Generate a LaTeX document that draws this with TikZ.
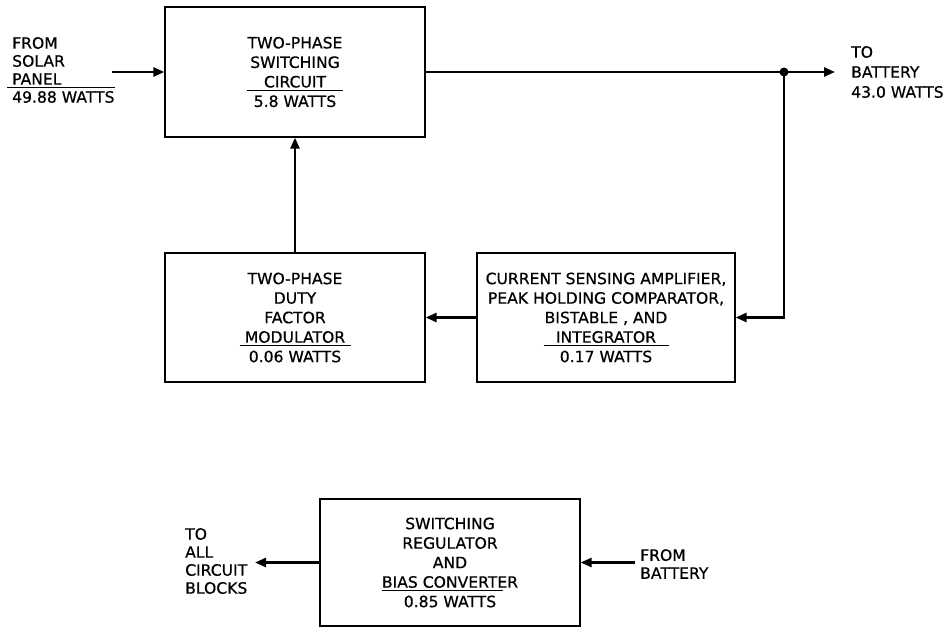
\documentclass[tikz,border=0pt]{standalone}
\usepackage{fontspec}
\setmainfont[FakeBold=0.6]{DejaVu Sans}
\usetikzlibrary{arrows.meta, positioning}
% rule under the last title line of a block
\newcommand{\ovr}[2]{\makebox[#1]{\rlap{\rule[-3.5pt]{#1}{0.9pt}}\hfill#2\hfill}}

\begin{document}
\begin{tikzpicture}[x=1pt, y=-1pt, >={Triangle[length=11pt, width=9pt]},
  blk/.style={draw, line width=1.3pt, inner sep=0pt, align=center,
              font=\fontsize{15.6}{19.5}\selectfont},
  lbl/.style={inner sep=0pt, align=left, anchor=west,
              font=\fontsize{15.6}{18}\selectfont},
  wire/.style={line width=2.6pt}]
  \useasboundingbox (0,0) rectangle (948,628);

  \node[blk, minimum width=260pt, minimum height=130pt] (sw) at (295,72)
    {TWO-PHASE\\SWITCHING\\\ovr{96pt}{CIRCUIT}\\5.8 WATTS};
  \node[blk, minimum width=260pt, minimum height=129pt] (mod) at (295,317.5)
    {TWO-PHASE\\DUTY\\FACTOR\\\ovr{111pt}{MODULATOR}\\0.06 WATTS};
  \node[blk, minimum width=258pt, minimum height=129pt] (cur) at (606,317.5)
    {CURRENT SENSING AMPLIFIER,\\PEAK HOLDING COMPARATOR,\\BISTABLE , AND\\\ovr{125pt}{INTEGRATOR}\\0.17 WATTS};
  \node[blk, minimum width=260pt, minimum height=127pt] (reg) at (450,562.5)
    {SWITCHING\\REGULATOR\\AND\\\ovr{121pt}{BIAS CONVERTER}\\0.85 WATTS};

  % outside labels
  \node[lbl] (solar) at (12,70)
    {FROM\\SOLAR\\\hspace*{-5pt}\rlap{\rule[-3.5pt]{108pt}{0.9pt}}\hspace*{5pt}PANEL\\49.88 WATTS};
  \node[lbl, font=\fontsize{15.6}{20}\selectfont] (bat) at (851,72)
    {TO\\BATTERY\\43.0 WATTS};
  \node[lbl] (loads) at (185,561) {TO\\ALL\\CIRCUIT\\BLOCKS};
  \node[lbl] (batin) at (640,564) {FROM\\BATTERY};

  \coordinate (in) at (112,72);
  \coordinate (jn) at (784,72);
  \coordinate (out) at (835,72);
  \coordinate (rout) at (255,562.5);
  \coordinate (rin) at (635,562.5);

  \draw[wire, ->] (in) -- (sw.west);
  \draw[wire] (sw.east) -- (jn);
  \draw[wire, ->] (jn) -- (out);
  \fill (jn) circle (4.5pt);
  \draw[wire, ->] (jn) |- (cur.east);
  \draw[wire, ->] (cur.west) -- (mod.east);
  \draw[wire, ->] (mod.north) -- (sw.south);
  \draw[wire, ->] (reg.west) -- (rout);
  \draw[wire, ->] (rin) -- (reg.east);
\end{tikzpicture}
\end{document}
